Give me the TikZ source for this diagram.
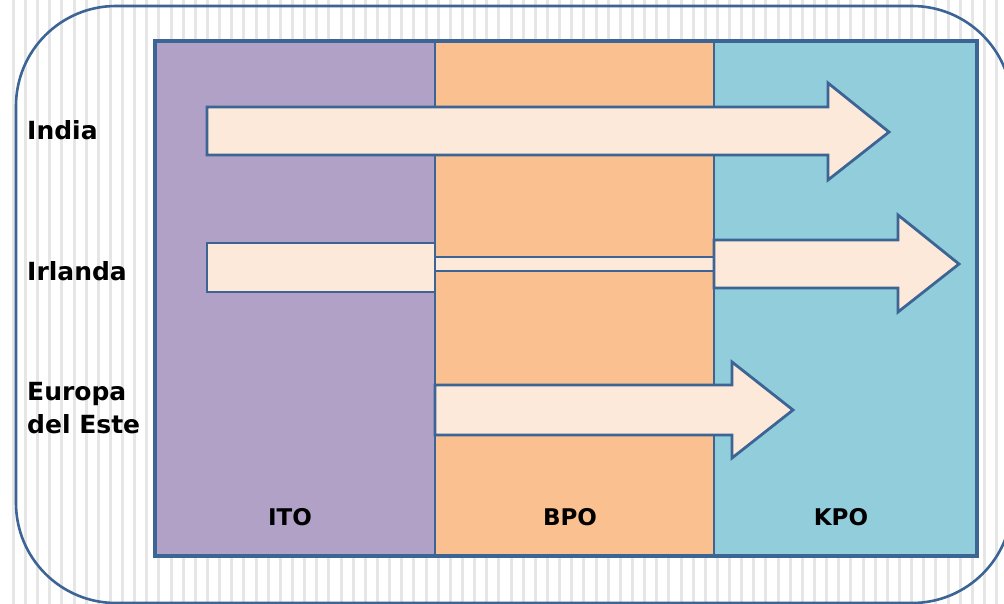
\documentclass[tikz,border=0pt]{standalone}
\usepackage{fontspec}
\setmainfont{DejaVu Sans}
\definecolor{ito}{HTML}{B2A1C7}
\definecolor{bpo}{HTML}{FAC090}
\definecolor{kpo}{HTML}{92CDDC}
\definecolor{arrfill}{HTML}{FDE9D9}
\definecolor{edge}{HTML}{3C6494}
\definecolor{stripe}{HTML}{E6E6E6}
\begin{document}
\begin{tikzpicture}[x=1pt,y=-1pt,
  arrowshape/.style={fill=arrfill,draw=edge,line width=2.8pt,line join=miter},
  lbl/.style={font=\fontsize{25}{33}\selectfont\bfseries,anchor=base west,inner sep=0pt,align=left},
  collbl/.style={font=\fontsize{23}{25}\selectfont\bfseries,anchor=base,inner sep=0pt}]
\useasboundingbox (0,0) rectangle (1004,604);
\fill[white] (0,0) rectangle (1004,604);
\begin{scope}
  \clip (0,0) rectangle (1004,604);
  \foreach \i in {0,...,82} \fill[stripe] ({11.8+12.14*\i},0) rectangle ++(3,604);
  \draw[edge,line width=2.6pt,rounded corners=100pt] (16,6) rectangle (1012,603);
\end{scope}
% columns
\fill[ito] (155,41) rectangle (435,556);
\fill[bpo] (435,41) rectangle (714,556);
\fill[kpo] (714,41) rectangle (977,556);
\draw[edge,line width=2.6pt] (435,41) -- (435,556) (714,41) -- (714,556);
\draw[edge,line width=3.6pt] (155,41) rectangle (977,556);
% arrows
\draw[arrowshape] (207,107) -- (828,107) -- (828,83) -- (889,132) -- (828,180) -- (828,155) -- (207,155) -- cycle;
\draw[arrowshape] (207,243) rectangle (435,292);
\draw[arrowshape] (435,257) rectangle (714,271);
\draw[arrowshape] (714,240) -- (898,240) -- (898,215) -- (959,264) -- (898,312) -- (898,288) -- (714,288) -- cycle;
\draw[arrowshape] (435,385) -- (732,385) -- (732,362) -- (793,410) -- (732,458) -- (732,435) -- (435,435) -- cycle;
% labels
\node[lbl] (india) at (27,139.5) {India};
\node[lbl] (irlanda) at (27,280) {Irlanda};
\node[lbl] (europa) at (27,400) {Europa};
\node[lbl] (este) at (27,433) {del Este};
\node[collbl] (ito) at (290,525) {ITO};
\node[collbl] (bpo) at (570,525) {BPO};
\node[collbl] (kpo) at (841,525) {KPO};
\end{tikzpicture}
\end{document}
